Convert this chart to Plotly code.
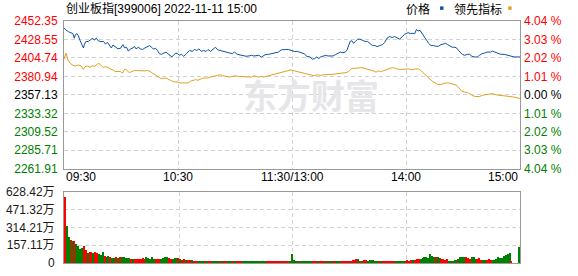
import plotly.graph_objects as go

# ---------------- data ----------------
title_text = "创业板指[399006] 2022-11-11 15:00"
legend_names = ["价格", "领先指标"]
watermark_text = "东方财富"
base_price = 2357.13

price_ticks = [2452.35, 2428.55, 2404.74, 2380.94, 2357.13, 2333.32, 2309.52, 2285.71, 2261.91]
pct_labels = ["4.04 %", "3.03 %", "2.02 %", "1.01 %", "0.00 %", "1.01 %", "2.02 %", "3.03 %", "4.04 %"]
vol_ticks = [0, 157.11, 314.21, 471.32, 628.42]
vol_tick_labels = ["0", "157.11万", "314.21万", "471.32万", "628.42万"]
time_ticks = [0, 60, 120, 180, 240]
time_labels = ["09:30", "10:30", "11:30/13:00", "14:00", "15:00"]

# minutes since 09:30 (trading minutes) and index price
price_t = [0, 1.0, 2.4, 3.8, 4.7, 5.4, 5.9, 6.8, 7.6, 8.5, 9.4, 10.2, 10.7, 11.4, 12.8, 14.2, 15.1, 15.9,
           17.0, 18.0, 19.4, 20.8, 21.8, 22.9, 23.9, 24.9, 25.8, 27.0, 28.4, 29.8, 31.0, 31.9, 32.9, 33.9,
           35.0, 36.2, 37.1, 37.9, 39.1, 40.2, 41.4, 42.6, 44.0, 45.0, 46.1, 47.1, 48.1, 49.2, 50.2, 51.3,
           52.6, 53.7, 54.7, 55.8, 56.8, 57.8, 58.9, 59.9, 60.6, 61.8, 63.0, 64.4, 65.3, 66.1, 67.5, 68.7,
           69.9, 71.0, 72.2, 73.4, 74.8, 75.8, 77.1, 78.3, 79.7, 80.9, 82.1, 83.5, 84.8, 86.1, 87.3, 88.7,
           89.7, 90.7, 92.1, 93.5, 94.7, 95.9, 97.3, 98.7, 99.9, 101.1, 102.5, 103.9, 105.1, 106.3, 107.7,
           109.1, 110.3, 111.5, 112.9, 114.3, 115.5, 116.7, 118.1, 119.5, 121.2, 122.9, 124.7, 126.4, 127.8,
           129.5, 130.7, 131.9, 133.0, 134.0, 135.1, 136.4, 137.7, 138.9, 140.3, 141.6, 142.8, 144.1, 145.5,
           146.8, 148.0, 148.9, 149.8, 150.6, 151.5, 152.4, 153.4, 154.6, 155.8, 157.2, 158.4, 159.7, 161.0,
           162.4, 163.6, 164.8, 166.2, 167.6, 168.8, 170.0, 171.4, 172.8, 174.0, 175.3, 176.6, 178.0, 179.2,
           181.1, 182.3, 183.6, 184.6, 185.5, 186.3, 187.4, 188.4, 189.3, 190.1, 191.0, 191.9, 193.2, 194.5,
           195.7, 197.1, 198.4, 199.7, 200.9, 201.9, 203.1, 204.3, 205.7, 206.6, 207.4, 208.3, 209.6, 210.9,
           212.3, 213.5, 214.7, 216.1, 217.5, 218.7, 219.9, 221.3, 222.7, 224.4, 225.6, 226.8, 228.2, 229.9,
           231.7, 233.4, 234.8, 236.9, 240]
price = [2443.58, 2440.70, 2438.57, 2437.32, 2436.06, 2430.17, 2434.43, 2436.06, 2433.18, 2426.92, 2422.66,
         2417.64, 2421.90, 2425.66, 2426.04, 2428.92, 2430.17, 2427.67, 2430.17, 2426.92, 2425.66, 2426.04,
         2422.66, 2424.79, 2420.65, 2417.64, 2421.40, 2418.52, 2416.39, 2417.27, 2421.90, 2417.64, 2418.52,
         2413.51, 2416.39, 2417.64, 2419.40, 2416.39, 2418.52, 2416.39, 2415.64, 2417.64, 2419.40, 2420.65,
         2418.52, 2416.02, 2417.27, 2414.39, 2410.13, 2409.38, 2411.00, 2412.26, 2410.13, 2408.12, 2405.99,
         2408.87, 2411.00, 2410.13, 2408.12, 2409.38, 2406.87, 2410.13, 2412.26, 2414.39, 2413.13, 2415.64,
         2414.39, 2416.39, 2413.13, 2414.39, 2413.13, 2415.64, 2413.13, 2415.64, 2418.52, 2415.14, 2414.39,
         2413.51, 2412.26, 2412.26, 2411.00, 2410.13, 2412.63, 2410.13, 2408.87, 2408.12, 2407.25, 2406.87,
         2407.25, 2408.12, 2407.25, 2408.12, 2408.12, 2405.99, 2408.12, 2409.38, 2409.38, 2410.13, 2411.00,
         2411.00, 2412.26, 2415.14, 2415.64, 2415.64, 2415.64, 2414.39, 2413.13, 2413.13, 2411.38, 2410.13,
         2406.87, 2405.99, 2403.11, 2403.86, 2405.99, 2403.86, 2405.99, 2406.87, 2408.12, 2407.25, 2407.25,
         2407.25, 2408.87, 2411.00, 2412.26, 2411.38, 2412.26, 2414.39, 2420.65, 2426.04, 2426.92, 2423.53,
         2426.04, 2428.92, 2428.92, 2427.67, 2426.04, 2426.04, 2423.53, 2420.65, 2420.65, 2419.40, 2420.65,
         2421.90, 2424.79, 2430.17, 2432.30, 2431.05, 2432.30, 2431.05, 2428.92, 2431.93, 2435.19, 2437.32,
         2436.06, 2436.44, 2436.06, 2441.45, 2439.45, 2440.20, 2436.06, 2433.18, 2430.17, 2426.92, 2423.53,
         2420.65, 2420.65, 2419.77, 2419.77, 2421.90, 2422.66, 2423.53, 2421.90, 2420.65, 2418.52, 2418.52,
         2417.64, 2415.14, 2412.26, 2409.38, 2408.12, 2409.38, 2409.38, 2406.87, 2405.99, 2405.99, 2408.12,
         2410.13, 2411.00, 2412.26, 2412.26, 2413.51, 2412.26, 2411.00, 2409.38, 2409.38, 2408.12, 2406.87,
         2405.99, 2405.99]

lead_t = [0, 1.0, 2.1, 3.3, 4.5, 5.9, 7.6, 9.0, 10.2, 11.1, 12.5, 13.7, 14.9, 16.3, 17.7, 18.4, 19.4, 20.6,
          21.8, 23.2, 24.6, 25.8, 27.0, 28.4, 29.8, 30.7, 31.9, 32.7, 33.6, 34.5, 35.7, 37.1, 38.8, 40.5,
          42.3, 44.0, 45.4, 46.6, 47.9, 49.2, 50.6, 51.8, 53.0, 54.4, 55.8, 57.0, 58.2, 59.6, 61.0, 62.7,
          64.1, 65.3, 66.5, 67.9, 69.3, 70.5, 71.7, 73.1, 74.5, 75.7, 76.9, 78.3, 79.7, 80.9, 82.1, 83.5,
          84.8, 86.1, 87.3, 88.7, 90.0, 91.8, 93.5, 95.2, 97.0, 98.7, 99.9, 101.1, 102.5, 103.9, 105.1,
          106.3, 107.7, 109.1, 110.3, 111.5, 112.9, 114.3, 115.5, 116.7, 118.1, 119.5, 121.2, 122.9, 124.7,
          126.4, 128.1, 129.9, 131.6, 133.3, 135.1, 136.8, 138.5, 140.3, 142.0, 143.7, 145.5, 147.2, 148.9,
          150.3, 151.5, 153.2, 154.9, 156.7, 157.9, 159.3, 161.0, 162.8, 164.2, 165.4, 166.6, 168.0, 169.3,
          171.1, 172.8, 174.6, 175.8, 177.5, 179.2, 181.5, 183.2, 184.9, 186.7, 187.5, 188.8, 190.1, 191.5,
          192.7, 193.9, 195.3, 196.7, 198.4, 199.7, 200.9, 202.3, 203.6, 204.9, 206.6, 207.8, 209.2, 210.6,
          212.3, 214.0, 215.2, 216.9, 218.7, 220.4, 222.2, 223.9, 225.6, 227.4, 229.1, 230.8, 232.6, 234.3,
          236.0, 237.8, 240]
lead = [2403.11, 2411.00, 2401.86, 2397.60, 2395.59, 2394.34, 2395.59, 2394.34, 2390.08, 2393.46, 2394.34,
        2392.59, 2394.34, 2394.34, 2396.85, 2397.60, 2395.59, 2392.59, 2393.46, 2392.59, 2390.08, 2389.33,
        2387.20, 2387.20, 2387.20, 2385.07, 2390.08, 2390.08, 2387.20, 2385.95, 2387.20, 2388.45, 2388.45,
        2388.08, 2388.08, 2388.45, 2387.20, 2385.07, 2383.06, 2380.06, 2378.80, 2378.05, 2378.80, 2378.05,
        2375.92, 2374.67, 2373.79, 2373.79, 2372.54, 2372.54, 2371.79, 2372.54, 2374.67, 2375.55, 2376.80,
        2375.92, 2377.55, 2378.80, 2378.80, 2378.80, 2380.06, 2380.93, 2382.19, 2383.06, 2383.06, 2381.81,
        2380.93, 2380.06, 2380.06, 2380.93, 2381.81, 2380.93, 2380.93, 2380.06, 2380.06, 2380.06, 2381.81,
        2380.93, 2380.06, 2380.93, 2380.06, 2380.93, 2381.81, 2383.06, 2384.32, 2384.32, 2385.95, 2385.95,
        2387.20, 2388.08, 2388.45, 2389.33, 2388.08, 2387.20, 2386.32, 2385.07, 2384.32, 2383.06, 2381.81,
        2383.06, 2382.19, 2383.06, 2383.06, 2383.06, 2383.82, 2384.32, 2385.07, 2385.95, 2385.95, 2388.45,
        2391.33, 2391.33, 2392.21, 2392.21, 2391.33, 2390.08, 2389.33, 2388.08, 2386.32, 2388.08, 2387.20,
        2388.08, 2389.33, 2390.58, 2392.21, 2391.33, 2390.08, 2390.08, 2390.08, 2390.58, 2389.33, 2390.58,
        2390.58, 2389.33, 2385.95, 2383.06, 2380.06, 2376.80, 2374.67, 2372.54, 2370.54, 2370.54, 2371.79,
        2372.54, 2372.54, 2371.79, 2370.54, 2369.66, 2366.28, 2362.14, 2360.89, 2360.01, 2358.01, 2355.88,
        2355.00, 2355.00, 2356.75, 2357.13, 2358.01, 2358.76, 2357.13, 2356.75, 2355.88, 2355.88, 2354.62,
        2354.62, 2353.75, 2352.49]

# per-minute volume (万), morning 09:30-11:30 then afternoon 13:01-15:00
vol_am = [585.6, 328.5, 234.2, 205.7, 191.4, 191.4, 165.7, 148.5, 122.8, 134.3,
          148.5, 114.3, 85.7, 94.3, 94.3, 85.7, 94.3, 85.7, 77.1, 71.4,
          94.3, 62.8, 57.1, 62.8, 51.4, 42.8, 42.8, 51.4, 42.8, 57.1,
          51.4, 51.4, 42.8, 42.8, 42.8, 34.3, 34.3, 34.3, 34.3, 34.3,
          34.3, 42.8, 34.3, 51.4, 42.8, 34.3, 51.4, 34.3, 34.3, 34.3,
          34.3, 34.3, 42.8, 57.1, 51.4, 42.8, 34.3, 34.3, 42.8, 42.8,
          42.8, 34.3, 28.6, 34.3, 28.6, 28.6, 28.6, 28.6, 20.0, 20.0,
          20.0, 20.0, 20.0, 14.3, 20.0, 14.3, 20.0, 20.0, 14.3, 14.3,
          20.0, 14.3, 14.3, 20.0, 14.3, 20.0, 14.3, 20.0, 14.3, 14.3,
          14.3, 20.0, 14.3, 14.3,
          11.4, 8.6, 11.4, 11.4, 8.6, 11.4, 11.4, 11.4, 8.6, 11.4, 11.4, 8.6, 11.4,
          11.4, 11.4, 11.4, 11.4, 11.4, 11.4, 11.4,
          20.0, 11.4, 14.3, 20.0, 20.0, 20.0, 80.0]
vol_pm = [25.7, 11.4, 17.1, 8.6, 17.1, 17.1, 17.1, 17.1, 8.6, 11.4,
          17.1, 8.6, 8.6, 8.6, 8.6, 8.6, 8.6, 8.6, 8.6, 8.6,
          8.6, 8.6, 8.6, 8.6,
          8.6, 8.6, 17.1, 17.1, 8.6, 8.6, 8.6, 25.7, 25.7, 34.3,
          34.3, 17.1, 17.1, 25.7, 25.7, 17.1, 25.7, 25.7, 25.7, 17.1,
          17.1, 8.6, 8.6, 8.6, 8.6, 8.6, 17.1, 17.1, 17.1, 17.1,
          17.1, 17.1, 17.1, 17.1, 17.1, 17.1, 25.7, 17.1, 25.7, 25.7,
          25.7, 34.3, 34.3, 34.3, 42.8, 51.4, 57.1, 42.8, 77.1, 65.7,
          51.4, 57.1, 51.4, 42.8, 34.3, 34.3, 25.7, 34.3, 17.1, 17.1,
          17.1, 25.7, 25.7, 34.3, 51.4, 57.1, 57.1, 51.4, 42.8, 34.3,
          51.4, 51.4, 34.3, 34.3, 42.8, 25.7, 25.7, 25.7, 25.7, 34.3,
          25.7, 25.7, 25.7, 34.3, 51.4, 42.8, 42.8, 62.8, 71.4, 80.0,
          85.7, 8.6, 0, 0, 0, 137.1]
# r = up minute (red), g = down minute (green)
vol_dir_am = ("rggrgrgggg" "rrgrrgrrgg" "grggrggrgr" "gggggrgrrr" "rrrgggggrr"
              "rggggrrggg" "rgrrgrrgrr" "rgggrgrrgg" "ggrgrrgggr" "grrr"
              "ggggggggggggg" "rrrrrrr" "rgrrrgg")
vol_dir_pm = ("gggrgggggg" "rrrgrrrgrg" "grrg" "grrrrrrrrr" "grgrrggggg"
              "grgrrrrrrr" "gggggrrrrg" "rrrggggggg" "grggrrrrgg" "ggrggggrrr"
              "gggrrrggrr" "rggggggggg" "gr" "ggg" "g")

# ---------------- style ----------------
BLUE = "#0b52a3"
ORANGE = "#e0a020"
RED = "#ff0000"
GREEN = "#008000"
GRID = "#d2d2d2"
FRAME = "#999999"
FONT = "Liberation Sans, Arial, Noto Sans CJK SC, sans-serif"

W, H = 578, 276
ML, MR, MT, MB = 58, 58, 21, 6
PW, PH = W - ML - MR, H - MT - MB


def px_x(px):
    return (px - ML) / PW


def px_y(py):
    return (H - MB - py) / PH


vol = vol_am + vol_pm
vol_dir = vol_dir_am + vol_dir_pm
vol_x = list(range(len(vol)))
bar_colors = [RED if (i < len(vol_dir) and vol_dir[i] == "r") else GREEN for i in vol_x]


def tick_color(v):
    if abs(v - base_price) < 1e-6:
        return "#000000"
    return RED if v > base_price else GREEN


left_text = [f'<span style="color:{tick_color(v)}">{v:.2f}</span>' for v in price_ticks]
right_text = [f'<span style="color:{tick_color(v)}">{s}</span>' for v, s in zip(price_ticks, pct_labels)]

fig = go.Figure()
fig.add_trace(go.Scatter(x=lead_t, y=lead, mode="lines", line=dict(color=ORANGE, width=1),
                         xaxis="x", yaxis="y2", hoverinfo="skip", showlegend=False))
fig.add_trace(go.Scatter(x=price_t, y=price, mode="lines", line=dict(color=BLUE, width=1),
                         xaxis="x", yaxis="y", hoverinfo="skip", showlegend=False))
fig.add_trace(go.Bar(x=vol_x, y=vol, marker=dict(color=bar_colors, line=dict(width=0)), width=0.55,
                     xaxis="x2", yaxis="y3", hoverinfo="skip", showlegend=False))

main_bottom = px_y(173)
vol_top = px_y(197)

grid_common = dict(showgrid=True, gridcolor=GRID, gridwidth=1, griddash="4px,3px", zeroline=False,
                   showline=True, mirror=True, linecolor=FRAME, linewidth=1, ticks="")

fig.update_layout(
    width=W, height=H,
    margin=dict(l=ML, r=MR, t=MT, b=MB, pad=0),
    paper_bgcolor="white", plot_bgcolor="white",
    font=dict(family=FONT, size=12, color="#000000"),
    bargap=0,
    xaxis=dict(domain=[0, 1], range=[0, 240], anchor="y", tickvals=time_ticks[1:4],
               showticklabels=False, **grid_common),
    yaxis=dict(domain=[main_bottom, 1], range=[price_ticks[-1], price_ticks[0]], anchor="x",
               tickvals=price_ticks, ticktext=left_text, ticklabelstandoff=3,
               tickfont=dict(family=FONT, size=12), **grid_common),
    yaxis2=dict(overlaying="y", side="right", range=[price_ticks[-1], price_ticks[0]], anchor="x",
                tickvals=price_ticks, ticktext=right_text, ticklabelstandoff=3, showgrid=False,
                zeroline=False, showline=False, ticks="", tickfont=dict(family=FONT, size=12)),
    xaxis2=dict(domain=[0, 1], range=[-0.5, len(vol) - 0.5], anchor="y3",
                tickvals=[t + 0.5 for t in time_ticks[1:4]], showticklabels=False, **grid_common),
    yaxis3=dict(domain=[0, vol_top], range=[0, vol_ticks[-1]], anchor="x2",
                tickvals=vol_ticks, ticktext=vol_tick_labels, ticklabelstandoff=6,
                tickfont=dict(family=FONT, size=12, color="#1a1a1a"), **grid_common),
)

annotations = []
# x-axis time labels
anchors = ["left", "center", "center", "center", "right"]
for t, lab, anc in zip(time_ticks, time_labels, anchors):
    annotations.append(dict(x=t, xref="x", y=px_y(182), yref="paper", text=lab, showarrow=False,
                            xanchor=anc, yanchor="middle", font=dict(family=FONT, size=12, color="#000")))
# title
annotations.append(dict(x=0, xref="paper", y=px_y(8.5), yref="paper", text=title_text, showarrow=False,
                        xanchor="left", yanchor="middle", font=dict(family=FONT, size=12, color="#000")))
# legend texts
annotations.append(dict(x=px_x(417), xref="paper", y=px_y(8.7), yref="paper", text=legend_names[0],
                        showarrow=False, xanchor="center", yanchor="middle",
                        font=dict(family=FONT, size=12, color="#000")))
annotations.append(dict(x=px_x(477), xref="paper", y=px_y(8.7), yref="paper", text=legend_names[1],
                        showarrow=False, xanchor="center", yanchor="middle",
                        font=dict(family=FONT, size=12, color="#000")))
# watermark
annotations.append(dict(x=px_x(308), xref="paper", y=px_y(97), yref="paper", text=f"<b>{watermark_text}</b>",
                        showarrow=False, xanchor="center", yanchor="middle",
                        font=dict(family="Noto Sans CJK SC", size=34, color="#e6e6e9")))
fig.update_layout(annotations=annotations)

shapes = [
    dict(type="rect", xref="paper", yref="paper", x0=px_x(439), x1=px_x(442.5), y0=px_y(9.5), y1=px_y(6),
         fillcolor=BLUE, line=dict(width=0)),
    dict(type="rect", xref="paper", yref="paper", x0=px_x(508), x1=px_x(511.5), y0=px_y(9.5), y1=px_y(6),
         fillcolor=ORANGE, line=dict(width=0)),
]
fig.update_layout(shapes=shapes)

fig.write_html("out.html")
